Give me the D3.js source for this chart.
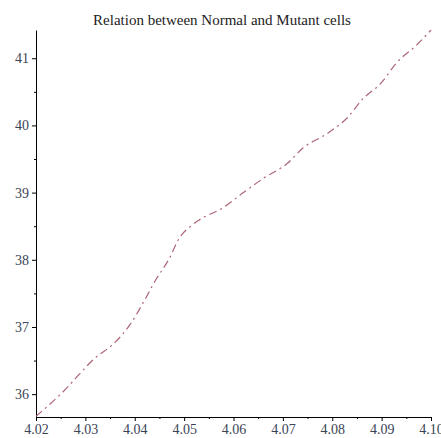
<!DOCTYPE html>
<html>
<head>
<meta charset="utf-8">
<title>Relation between Normal and Mutant cells</title>
<script src="https://d3js.org/d3.v7.min.js"></script>
<style type="text/css">
body {
	margin: 0;
	background: white;
}
.tick text {
	font-family: "Liberation Serif", "DejaVu Serif", serif;
	font-size: 14px;
	fill: #3a4456;
}
</style>
</head>
<body>
<div id="chart"></div>
<script>

// values (normal vs mutant)
var normal = [4.020, 4.025, 4.032, 4.036, 4.039, 4.042, 4.044, 4.047, 4.049, 4.0515, 4.053, 4.058,
              4.062, 4.066, 4.071, 4.074, 4.079, 4.083, 4.086, 4.090, 4.093, 4.097, 4.100];
var mutant = [35.67, 36.0, 36.54, 36.77, 37.03, 37.40, 37.67, 38.02, 38.32, 38.51, 38.59, 38.78,
              39.0, 39.21, 39.44, 39.66, 39.88, 40.11, 40.38, 40.64, 40.93, 41.19, 41.42];
var xTicks = [4.02, 4.03, 4.04, 4.05, 4.06, 4.07, 4.08, 4.09, 4.10];
var yTicks = [36, 37, 38, 39, 40, 41];
var title = "Relation between Normal and Mutant cells";

var width = 441, height = 438;

var svg = d3.select("#chart").append("svg")
    .attr("width", width)
    .attr("height", height);

// set the ranges
var x = d3.scaleLinear()
    .domain([4.02, 4.10])
    .range([36, 431]);
var y = d3.scaleLinear()
    .domain([35.66, 41.42])
    .range([417, 30]);

// minor ticks first, no labels
svg.append("g")
    .attr("transform", "translate(0,417)")
    .call(d3.axisBottom(x).tickValues(d3.range(4.025, 4.10, 0.01)).tickSize(2).tickFormat(""))
    .call(function(g) { g.select(".domain").remove(); });
svg.append("g")
    .attr("transform", "translate(36,0)")
    .call(d3.axisLeft(y).tickValues(d3.range(36.5, 41.4, 1)).tickSize(2).tickFormat(""))
    .call(function(g) { g.select(".domain").remove(); });

// x axis
svg.append("g")
    .attr("transform", "translate(0,417)")
    .call(d3.axisBottom(x).tickValues(xTicks).tickSize(4).tickSizeOuter(0).tickPadding(3)
        .tickFormat(d3.format(".2f")));

// y axis
svg.append("g")
    .attr("transform", "translate(36,0)")
    .call(d3.axisLeft(y).tickValues(yTicks).tickSize(4).tickSizeOuter(0).tickPadding(3)
        .tickFormat(d3.format("d")));

// the dash-dot curve
var line = d3.line()
    .x(function(d, i) { return x(normal[i]); })
    .y(function(d) { return y(d); })
    .curve(d3.curveMonotoneX);

svg.append("path")
    .datum(mutant)
    .attr("fill", "none")
    .attr("stroke", "#ad6676")
    .attr("stroke-width", 1.2)
    .attr("stroke-dasharray", "8,4,2,4")
    .attr("d", line);

svg.append("text")
    .attr("x", 222)
    .attr("y", 25)
    .attr("text-anchor", "middle")
    .style("font-family", "'Liberation Serif', 'DejaVu Serif', serif")
    .style("font-size", "15px")
    .style("fill", "#222")
    .text(title);

</script>
</body>
</html>
